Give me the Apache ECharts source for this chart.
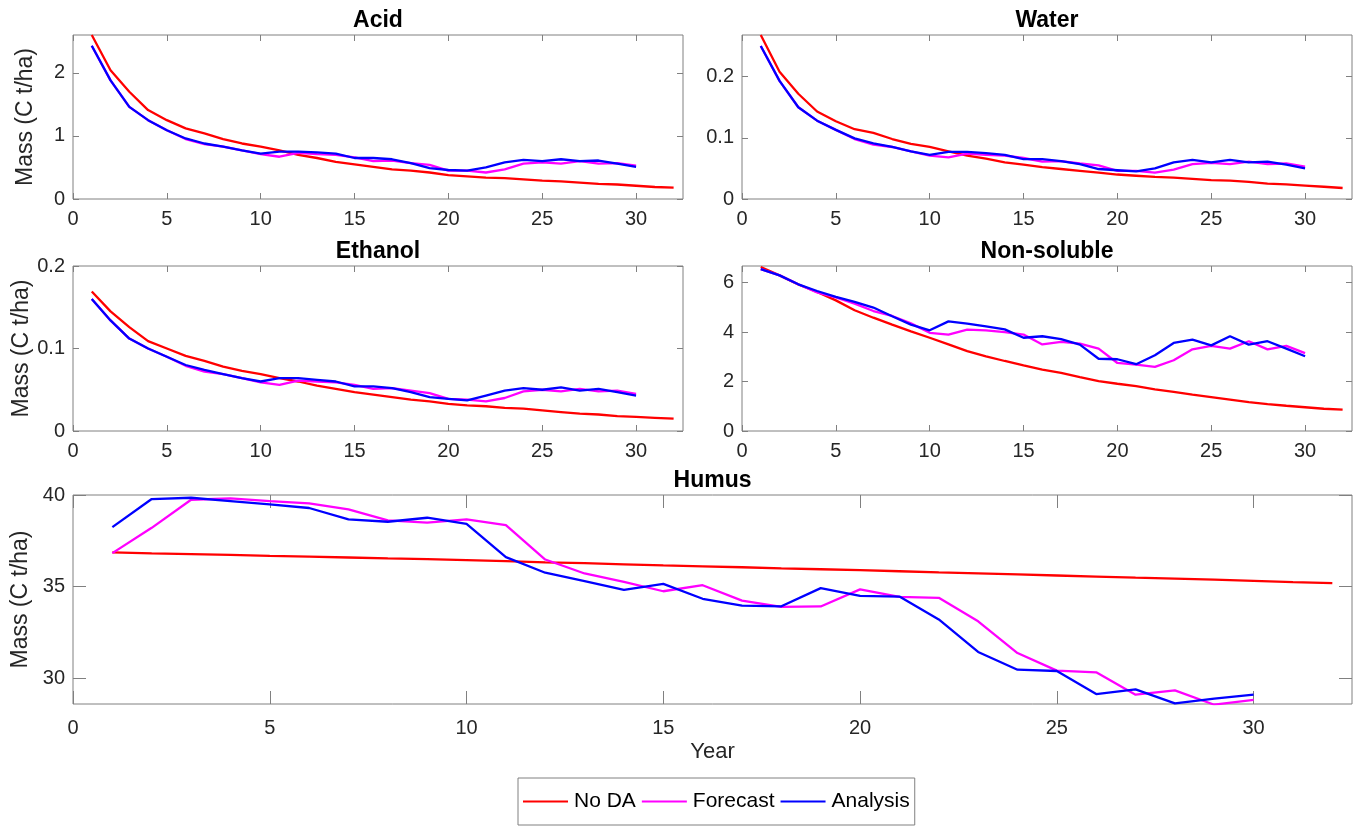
<!DOCTYPE html>
<html>
<head>
<meta charset="utf-8">
<script src="https://cdn.jsdelivr.net/npm/echarts@6/dist/echarts.min.js"></script>
<style>
  html, body { margin: 0; padding: 0; background: #fff; }
  #chart { width: 1357px; height: 827px; }
</style>
</head>
<body>
<div id="chart"></div>
<script>
// Years 1..32 (No DA runs to 32, the DA runs stop at 30)
const years = [1, 2, 3, 4, 5, 6, 7, 8, 9, 10, 11, 12, 13, 14, 15, 16,
    17, 18, 19, 20, 21, 22, 23, 24, 25, 26, 27, 28, 29, 30, 31, 32];
const xTicks = [0, 5, 10, 15, 20, 25, 30];
const seriesNames = ['No DA', 'Forecast', 'Analysis'];

// Acid
const acidNoDA = [2.60, 2.04, 1.70, 1.41, 1.25, 1.12, 1.04, 0.95, 0.88, 0.83, 0.77, 0.70, 0.65, 0.59, 0.55, 0.51,
    0.47, 0.45, 0.42, 0.38, 0.36, 0.34, 0.33, 0.31, 0.29, 0.28, 0.26, 0.24, 0.23, 0.21, 0.19, 0.18];
const acidForecast = [2.43, 1.88, 1.46, 1.25, 1.09, 0.95, 0.87, 0.83, 0.77, 0.71, 0.67, 0.73, 0.71, 0.70, 0.66,
    0.60, 0.61, 0.57, 0.54, 0.45, 0.45, 0.42, 0.47, 0.56, 0.58, 0.56, 0.60, 0.56, 0.57, 0.53];
const acidAnalysis = [2.43, 1.88, 1.46, 1.25, 1.09, 0.96, 0.88, 0.83, 0.77, 0.72, 0.75, 0.75, 0.74, 0.72, 0.65,
    0.65, 0.63, 0.57, 0.49, 0.46, 0.45, 0.50, 0.58, 0.62, 0.60, 0.63, 0.60, 0.61, 0.56, 0.51];

// Water
const waterNoDA = [0.268, 0.208, 0.172, 0.143, 0.127, 0.114, 0.108, 0.098, 0.090, 0.085, 0.078, 0.071, 0.066,
    0.060, 0.056, 0.052, 0.049, 0.046, 0.043, 0.040, 0.038, 0.036, 0.035, 0.033, 0.031, 0.030, 0.028, 0.025,
    0.024, 0.022, 0.020, 0.018];
const waterForecast = [0.250, 0.193, 0.150, 0.128, 0.113, 0.098, 0.089, 0.085, 0.078, 0.071, 0.068, 0.074,
    0.072, 0.071, 0.067, 0.061, 0.062, 0.058, 0.055, 0.046, 0.046, 0.043, 0.048, 0.057, 0.059, 0.057, 0.061,
    0.057, 0.058, 0.053];
const waterAnalysis = [0.250, 0.193, 0.150, 0.128, 0.113, 0.099, 0.091, 0.085, 0.078, 0.072, 0.077, 0.077,
    0.075, 0.072, 0.065, 0.065, 0.062, 0.057, 0.049, 0.047, 0.045, 0.050, 0.060, 0.064, 0.060, 0.064, 0.060,
    0.061, 0.056, 0.050];

// Ethanol
const ethanolNoDA = [0.169, 0.145, 0.126, 0.109, 0.100, 0.091, 0.085, 0.078, 0.073, 0.069, 0.064, 0.060, 0.055,
    0.051, 0.047, 0.044, 0.041, 0.038, 0.036, 0.033, 0.031, 0.030, 0.028, 0.027, 0.025, 0.023, 0.021, 0.020,
    0.018, 0.017, 0.016, 0.015];
const ethanolForecast = [0.160, 0.134, 0.112, 0.100, 0.090, 0.079, 0.072, 0.069, 0.064, 0.059, 0.056, 0.061,
    0.060, 0.059, 0.056, 0.051, 0.052, 0.049, 0.046, 0.039, 0.038, 0.036, 0.040, 0.048, 0.050, 0.048, 0.051,
    0.048, 0.049, 0.045];
const ethanolAnalysis = [0.160, 0.134, 0.112, 0.100, 0.090, 0.080, 0.074, 0.069, 0.064, 0.060, 0.064, 0.064,
    0.062, 0.060, 0.054, 0.054, 0.052, 0.047, 0.041, 0.039, 0.037, 0.043, 0.049, 0.052, 0.050, 0.053, 0.049,
    0.051, 0.047, 0.043];

// Non-soluble
const nonSolNoDA = [6.63, 6.29, 5.92, 5.62, 5.28, 4.88, 4.58, 4.30, 4.03, 3.77, 3.50, 3.23, 3.02, 2.83, 2.65, 2.48,
    2.35, 2.18, 2.02, 1.91, 1.81, 1.68, 1.58, 1.47, 1.37, 1.27, 1.17, 1.09, 1.02, 0.96, 0.90, 0.86];
const nonSolForecast = [6.54, 6.29, 5.93, 5.60, 5.40, 5.15, 4.85, 4.65, 4.35, 3.97, 3.90, 4.10, 4.07, 4.00, 3.90,
    3.50, 3.60, 3.53, 3.33, 2.75, 2.68, 2.59, 2.86, 3.30, 3.44, 3.33, 3.63, 3.30, 3.44, 3.15];
const nonSolAnalysis = [6.54, 6.29, 5.93, 5.66, 5.42, 5.22, 4.99, 4.64, 4.30, 4.07, 4.43, 4.34, 4.23, 4.11, 3.77,
    3.83, 3.71, 3.49, 2.92, 2.90, 2.70, 3.06, 3.56, 3.69, 3.46, 3.83, 3.49, 3.63, 3.33, 3.02];

// Humus
const humusNoDA = [36.87, 36.82, 36.78, 36.73, 36.68, 36.64, 36.59, 36.54, 36.50, 36.45, 36.39, 36.33, 36.28,
    36.22, 36.16, 36.11, 36.06, 36.00, 35.95, 35.90, 35.84, 35.78, 35.73, 35.67, 35.61, 35.55, 35.49, 35.44,
    35.38, 35.32, 35.25, 35.19];
const humusForecast = [36.83, 38.21, 39.74, 39.82, 39.67, 39.54, 39.22, 38.62, 38.49, 38.67, 38.36, 36.48, 35.72,
    35.26, 34.75, 35.08, 34.24, 33.90, 33.92, 34.85, 34.44, 34.39, 33.11, 31.38, 30.42, 30.33, 29.11, 29.34,
    28.56, 28.83];
const humusAnalysis = [38.25, 39.78, 39.85, 39.67, 39.49, 39.29, 38.67, 38.54, 38.76, 38.43, 36.61, 35.76, 35.30,
    34.83, 35.15, 34.34, 33.97, 33.93, 34.92, 34.50, 34.46, 33.21, 31.44, 30.47, 30.40, 29.14, 29.40, 28.63,
    28.89, 29.11];

const panels = [
    { title: 'Acid', series: [acidNoDA, acidForecast, acidAnalysis], yMin: 0, yMax: 2.6, yTicks: [0, 1, 2] },
    { title: 'Water', series: [waterNoDA, waterForecast, waterAnalysis], yMin: 0, yMax: 0.268, yTicks: [0, 0.1, 0.2] },
    { title: 'Ethanol', series: [ethanolNoDA, ethanolForecast, ethanolAnalysis], yMin: 0, yMax: 0.2, yTicks: [0, 0.1, 0.2] },
    { title: 'Non-soluble', series: [nonSolNoDA, nonSolForecast, nonSolAnalysis], yMin: 0, yMax: 6.67, yTicks: [0, 2, 4, 6] },
    { title: 'Humus', series: [humusNoDA, humusForecast, humusAnalysis], yMin: 28.6, yMax: 40, yTicks: [30, 35, 40] }
];

// layout of the five axes boxes, in pixels
const layout = [
    { left: 73, top: 35, width: 610, height: 164, tick: 6, xMargin: 10, yName: true },
    { left: 742, top: 35, width: 610, height: 164, tick: 6, xMargin: 10, yName: false },
    { left: 73, top: 266, width: 610, height: 165, tick: 6, xMargin: 10, yName: true },
    { left: 742, top: 266, width: 610, height: 165, tick: 6, xMargin: 10, yName: false },
    { left: 73, top: 495, width: 1279, height: 209, tick: 13, xMargin: 14, yName: true, xName: true }
];
const colors = ['#ff0000', '#ff00ff', '#0000ff'];
const axisColor = '#808080';
const textColor = '#262626';
const font = 'Liberation Sans, Arial, Helvetica, sans-serif';

const chart = echarts.init(document.getElementById('chart'), null, { renderer: 'canvas' });

const grid = [], xAxis = [], yAxis = [], series = [], titles = [];

panels.forEach((p, i) => {
    const g = layout[i];
    grid.push({
        left: g.left, top: g.top, width: g.width, height: g.height,
        show: true, borderColor: axisColor, borderWidth: 1, backgroundColor: 'transparent'
    });
    const tickStyle = { show: true, inside: true, length: g.tick, lineStyle: { color: axisColor, width: 1 } };
    const noLine = { show: false, onZero: false };
    // bottom axis
    xAxis.push({
        type: 'value', gridIndex: i, min: 0, max: 32.5, position: 'bottom',
        axisLine: noLine,
        axisTick: Object.assign({ customValues: xTicks }, tickStyle),
        axisLabel: { customValues: xTicks, color: textColor, fontSize: 20, fontFamily: font, margin: g.xMargin },
        splitLine: { show: false },
        name: g.xName ? 'Year' : '', nameLocation: 'middle', nameGap: 37,
        nameTextStyle: { color: textColor, fontSize: 22, fontFamily: font }
    });
    // top axis: ticks only
    xAxis.push({
        type: 'value', gridIndex: i, min: 0, max: 32.5, position: 'top',
        axisLine: noLine,
        axisTick: Object.assign({ customValues: xTicks }, tickStyle),
        axisLabel: { show: false }, splitLine: { show: false }
    });
    yAxis.push({
        type: 'value', gridIndex: i, min: p.yMin, max: p.yMax, position: 'left',
        axisLine: noLine,
        axisTick: Object.assign({ customValues: p.yTicks }, tickStyle),
        axisLabel: { customValues: p.yTicks, color: textColor, fontSize: 20, fontFamily: font, margin: 8 },
        splitLine: { show: false },
        name: g.yName ? 'Mass (C t/ha)' : '', nameLocation: 'middle', nameGap: 36,
        nameTextStyle: { color: textColor, fontSize: 23, fontFamily: font }
    });
    // right axis: ticks only
    yAxis.push({
        type: 'value', gridIndex: i, min: p.yMin, max: p.yMax, position: 'right',
        axisLine: noLine,
        axisTick: Object.assign({ customValues: p.yTicks }, tickStyle),
        axisLabel: { show: false }, splitLine: { show: false }
    });
    p.series.forEach((vals, k) => {
        series.push({
            name: seriesNames[k], type: 'line',
            xAxisIndex: i * 2, yAxisIndex: i * 2,
            data: vals.map((v, j) => [years[j], v]),
            showSymbol: false, symbol: 'none',
            lineStyle: { color: colors[k], width: 2.3 },
            itemStyle: { color: colors[k] },
            clip: true, silent: true
        });
    });
    titles.push({
        type: 'text',
        x: g.left + g.width / 2, y: g.top - 26,
        style: {
            text: p.title, textAlign: 'center', textVerticalAlign: 'top',
            font: 'bold 23px ' + font, fill: '#000'
        }
    });
});

const option = {
    animation: false,
    backgroundColor: '#fff',
    grid, xAxis, yAxis, series,
    graphic: titles,
    legend: {
        data: seriesNames,
        left: 518, top: 778,
        orient: 'horizontal',
        icon: 'rect', itemWidth: 45, itemHeight: 2, itemGap: 6,
        padding: [13, 5, 13, 5],
        borderColor: '#808080', borderWidth: 1,
        backgroundColor: '#fff',
        textStyle: { color: '#000', fontSize: 21, fontFamily: font, padding: [0, 0, 0, 1] }
    }
};

chart.setOption(option);
</script>
</body>
</html>
